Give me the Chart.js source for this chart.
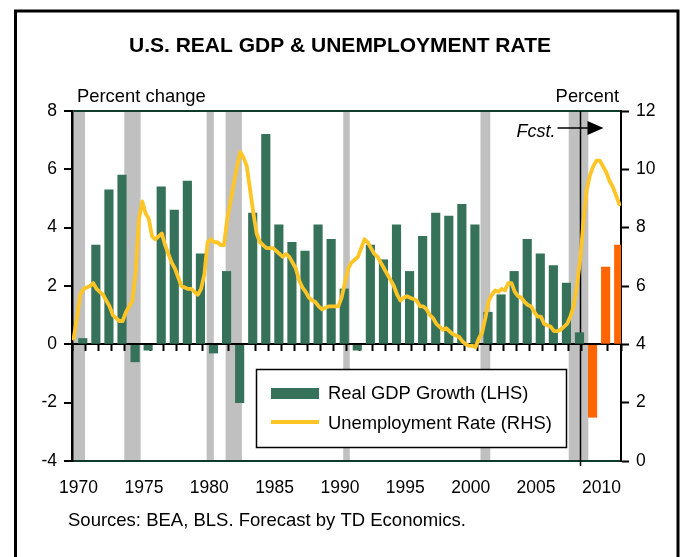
<!DOCTYPE html>
<html>
<head>
<meta charset="utf-8">
<script src="https://cdn.jsdelivr.net/npm/chart.js@4/dist/chart.umd.min.js"></script>
<style>
  html, body { margin: 0; padding: 0; background: #fff; }
  canvas { display: block; }
</style>
</head>
<body>
<canvas id="c" width="681" height="557"></canvas>
<script>
// ---------------- DATA ----------------
const years = [1970,1971,1972,1973,1974,1975,1976,1977,1978,1979,
               1980,1981,1982,1983,1984,1985,1986,1987,1988,1989,
               1990,1991,1992,1993,1994,1995,1996,1997,1998,1999,
               2000,2001,2002,2003,2004,2005,2006,2007,2008,2009,
               2010,2011];
// Real GDP growth, % (LHS); 2009 onward is forecast
const gdpGrowth = [0.2,3.4,5.3,5.8,-0.6,-0.2,5.4,4.6,5.6,3.1,
                   -0.3,2.5,-2.0,4.5,7.2,4.1,3.5,3.2,4.1,3.6,
                   1.9,-0.2,3.4,2.9,4.1,2.5,3.7,4.5,4.4,4.8,
                   4.1,1.1,1.7,2.5,3.6,3.1,2.7,2.1,0.4,-2.5,
                   2.65,3.4];
const forecastFromYear = 2009;
// Unemployment rate, % (RHS), quarterly 1970Q1 .. 2011Q4
const unempQuarterly = [
  4.2,4.9,5.7,5.9,   5.95,6.0,6.1,5.9,  5.8,5.7,5.5,5.3,   5.0,4.9,4.8,4.8,
  5.1,5.3,5.5,6.5,   8.3,8.9,8.5,8.3,   7.7,7.6,7.7,7.8,   7.4,7.1,6.8,6.6,
  6.3,6.0,5.95,5.9,  5.9,5.8,5.7,5.9,   6.4,7.5,7.6,7.5,   7.5,7.4,7.4,8.3,
  8.9,9.5,10.1,10.6, 10.4,10.1,9.3,8.5, 7.8,7.5,7.4,7.3,   7.3,7.3,7.2,7.1,
  7.0,7.1,7.0,6.8,   6.6,6.2,5.95,5.8,  5.6,5.5,5.45,5.3,  5.2,5.25,5.3,5.3,
  5.3,5.3,5.6,6.1,   6.6,6.8,6.9,7.0,   7.3,7.6,7.5,7.3,   7.1,7.0,6.8,6.6,
  6.4,6.2,6.0,5.7,   5.5,5.6,5.65,5.6,  5.55,5.5,5.3,5.3,  5.2,5.0,4.9,4.7,
  4.6,4.5,4.55,4.45, 4.35,4.3,4.25,4.1, 4.0,3.95,3.95,3.9, 4.2,4.4,4.9,5.5,
  5.7,5.85,5.8,5.9,  5.85,6.1,6.1,5.8,  5.65,5.6,5.45,5.35, 5.3,5.1,4.95,4.95,
  4.7,4.65,4.6,4.45, 4.45,4.5,4.6,4.7,  4.95,5.3,6.0,6.9,  8.2,9.3,9.8,10.1,
  10.3,10.3,10.1,9.9, 9.6,9.4,9.1,8.8
];
const firstQuarterYear = 1970;
// Recessions (shaded), in fractional years
const recessionStart = [1970.0, 1974.0, 1980.3, 1981.75, 1990.75, 2001.25, 2008.0];
const recessionEnd   = [1971.0, 1975.25, 1980.85, 1983.0, 1991.25, 2002.0, 2009.5];
const forecastLineYear = 2008.9;
const leftTicks = [-4,-2,0,2,4,6,8];
const rightTicks = [0,2,4,6,8,10,12];
const labelEvery = 5;

// ---------------- STYLE ----------------
const FONT = "'Liberation Sans', Arial, Helvetica, sans-serif";
const GREEN = '#367259';
const ORANGE = '#FF6600';
const GOLD = '#FFC425';
const GREY = '#C0C0C0';
const DARKGREEN = '#0E3B2A';

const lineData = unempQuarterly.map((v, i) => ({ x: firstQuarterYear + (i + 0.5) / 4, y: v }));
const barColors = years.map(y => y >= forecastFromYear ? ORANGE : GREEN);

const decor = {
  id: 'decor',
  beforeDraw(chart) {
    const ctx = chart.ctx, ca = chart.chartArea, xs = chart.scales.x2;
    ctx.save();
    ctx.fillStyle = '#fff';
    ctx.fillRect(0, 0, chart.width, chart.height);
    ctx.fillStyle = GREY;
    for (let i = 0; i < recessionStart.length; i++) {
      const a = xs.getPixelForValue(recessionStart[i]);
      const b = xs.getPixelForValue(recessionEnd[i]);
      ctx.fillRect(a, ca.top, b - a, ca.bottom - ca.top);
    }
    ctx.restore();
  },
  beforeDatasetsDraw(chart) {
    const ctx = chart.ctx, ca = chart.chartArea, xs = chart.scales.x2;
    const fx = Math.round(xs.getPixelForValue(forecastLineYear)) + 0.5;
    ctx.save();
    ctx.strokeStyle = '#000';
    ctx.lineWidth = 1.5;
    ctx.beginPath();
    ctx.moveTo(fx, ca.top);
    ctx.lineTo(fx, ca.bottom + 5);
    ctx.stroke();
    ctx.restore();
  },
  afterDraw(chart) {
    const ctx = chart.ctx, xs = chart.scales.x2;
    ctx.save();
    // frame
    ctx.strokeStyle = '#000';
    ctx.lineWidth = 3;
    ctx.strokeRect(15.5, 11, 662.5, 620);
    // title
    ctx.fillStyle = '#000';
    ctx.textAlign = 'center';
    ctx.textBaseline = 'middle';
    ctx.font = 'bold 21px ' + FONT;
    ctx.fillText('U.S. REAL GDP & UNEMPLOYMENT RATE', 340, 46);
    // axis titles
    ctx.font = '18.4px ' + FONT;
    ctx.textAlign = 'left';
    ctx.fillText('Percent change', 77, 97);
    ctx.textAlign = 'right';
    ctx.fillText('Percent', 619, 97);
    // Fcst. arrow
    const fx = xs.getPixelForValue(forecastLineYear);
    const ay = 128;
    ctx.font = 'italic 18px ' + FONT;
    ctx.textAlign = 'right';
    ctx.fillText('Fcst.', fx - 25, ay + 4);
    ctx.lineWidth = 1.5;
    ctx.beginPath();
    ctx.moveTo(fx - 23, ay);
    ctx.lineTo(fx + 8, ay);
    ctx.stroke();
    ctx.beginPath();
    ctx.moveTo(fx + 7, ay - 7);
    ctx.lineTo(fx + 23, ay);
    ctx.lineTo(fx + 7, ay + 7);
    ctx.closePath();
    ctx.fill();
    // source
    ctx.font = '18.5px ' + FONT;
    ctx.textAlign = 'left';
    ctx.fillText('Sources: BEA, BLS. Forecast by TD Economics.', 68, 521);
    // legend
    const lx = 256, ly = 369, lw = 310, lh = 78;
    ctx.fillStyle = '#fff';
    ctx.fillRect(lx, ly, lw, lh);
    ctx.strokeStyle = '#000';
    ctx.lineWidth = 1.5;
    ctx.strokeRect(lx + 0.5, ly + 0.5, lw, lh);
    ctx.fillStyle = GREEN;
    ctx.fillRect(271, 388, 48, 11);
    ctx.strokeStyle = GOLD;
    ctx.lineWidth = 4;
    ctx.beginPath();
    ctx.moveTo(271, 422);
    ctx.lineTo(319, 422);
    ctx.stroke();
    ctx.fillStyle = '#000';
    ctx.font = '18.4px ' + FONT;
    ctx.textAlign = 'left';
    ctx.fillText('Real GDP Growth (LHS)', 328, 394);
    ctx.fillText('Unemployment Rate (RHS)', 328, 424);
    ctx.restore();
  }
};

new Chart(document.getElementById('c'), {
  data: {
    labels: years,
    datasets: [
      {
        type: 'line',
        label: 'Unemployment Rate (RHS)',
        data: lineData,
        xAxisID: 'x2',
        yAxisID: 'y2',
        borderColor: GOLD,
        borderWidth: 3.8,
        pointRadius: 0,
        tension: 0,
        borderJoinStyle: 'round',
        borderCapStyle: 'round',
        order: 0
      },
      {
        type: 'bar',
        label: 'Real GDP Growth (LHS)',
        data: gdpGrowth,
        xAxisID: 'x',
        yAxisID: 'y',
        backgroundColor: barColors,
        barThickness: 8.5,
        order: 1
      }
    ]
  },
  options: {
    responsive: false,
    animation: false,
    devicePixelRatio: 1,
    layout: { padding: { top: 111, bottom: 56, left: 0, right: 0 } },
    plugins: { legend: { display: false }, tooltip: { enabled: false }, title: { display: false } },
    scales: {
      x: {
        type: 'category',
        position: 'bottom',
        offset: true,
        grid: { display: false, drawTicks: false },
        border: { display: true, color: DARKGREEN, width: 2 },
        ticks: {
          autoSkip: false, maxRotation: 0, padding: 17,
          color: '#000', font: { family: FONT, size: 17.5 },
          callback: function(v, i) { const yr = years[i]; return yr % labelEvery === 0 ? String(yr) : ''; }
        },
        afterFit: s => { s.height = 40; }
      },
      x0: {
        type: 'category',
        position: { y: 0 },
        offset: true,
        grid: { offset: true, drawOnChartArea: false, drawTicks: true, tickLength: 6, tickColor: '#000', tickWidth: 2 },
        border: { display: true, color: '#000', width: 2 },
        ticks: { display: false }
      },
      x2: {
        type: 'linear',
        display: false,
        min: years[0],
        max: years[years.length - 1] + 1
      },
      y: {
        type: 'linear',
        position: 'left',
        min: leftTicks[0],
        max: leftTicks[leftTicks.length - 1],
        afterBuildTicks: s => { s.ticks = leftTicks.map(v => ({ value: v })); },
        grid: {
          drawOnChartArea: true,
          color: c => (c.tick && c.tick.value === leftTicks[leftTicks.length - 1]) ? DARKGREEN : 'rgba(0,0,0,0)',
          lineWidth: 2,
          tickColor: '#000', tickLength: 8, tickWidth: 2
        },
        border: { display: true, color: '#000', width: 2.5 },
        ticks: { color: '#000', font: { family: FONT, size: 17.5 }, padding: 7 },
        afterFit: s => { s.width = 72; }
      },
      y2: {
        type: 'linear',
        position: 'right',
        min: rightTicks[0],
        max: rightTicks[rightTicks.length - 1],
        afterBuildTicks: s => { s.ticks = rightTicks.map(v => ({ value: v })); },
        grid: { drawOnChartArea: false, tickColor: '#000', tickLength: 8, tickWidth: 2 },
        border: { display: true, color: '#000', width: 2 },
        ticks: { color: '#000', font: { family: FONT, size: 17.5 }, padding: 7 },
        afterFit: s => { s.width = 60; }
      }
    }
  },
  plugins: [decor]
});
</script>
</body>
</html>
